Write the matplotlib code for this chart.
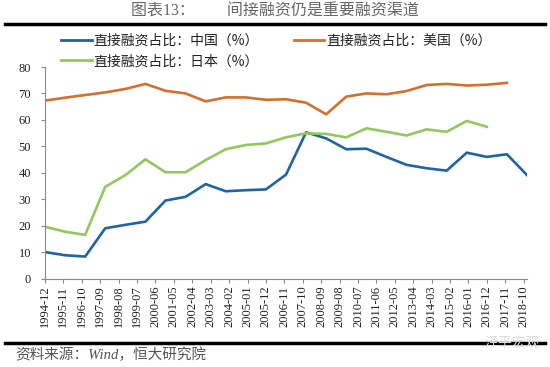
import matplotlib
matplotlib.use("Agg")
import matplotlib.pyplot as plt
import numpy as np

# 西文用衬线体，中文回落到 Noto Sans CJK
plt.rcParams['font.family'] = ['Liberation Serif', 'Noto Sans CJK SC', 'DejaVu Sans']

# 年末数据点 (1994-12 ... 2018-12)，单位 %
years = list(range(1994, 2019))
china = [10.0, 8.8, 8.3, 19.0, 20.3, 21.5, 29.5, 30.9, 35.7, 33.0, 33.4, 33.7,
         39.3, 55.3, 53.0, 48.9, 49.1, 46.0, 43.0, 41.7, 40.8, 47.6, 46.0, 47.0, 39.1]
usa = [67.3, 68.4, 69.4, 70.4, 71.7, 73.6, 71.0, 70.0, 67.0, 68.5, 68.5, 67.6,
       67.8, 66.5, 62.1, 68.8, 70.0, 69.7, 70.9, 73.2, 73.6, 73.0, 73.3, 74.0]
japan = [19.6, 17.7, 16.5, 34.7, 39.1, 45.1, 40.2, 40.2, 44.8, 48.9, 50.5, 51.1,
         53.4, 54.9, 54.7, 53.4, 56.8, 55.5, 54.1, 56.4, 55.5, 59.6, 57.4]

tick_labels = ['1994-12', '1995-11', '1996-10', '1997-09', '1998-08', '1999-07',
               '2000-06', '2001-05', '2002-04', '2003-03', '2004-02', '2005-01',
               '2005-12', '2006-11', '2007-10', '2008-09', '2009-08', '2010-07',
               '2011-06', '2012-05', '2013-04', '2014-03', '2015-02', '2016-01',
               '2016-12', '2017-11', '2018-10']

# 以 1994-12 起算的月数
def months(n):
    return np.arange(n) * 12

tick_pos = np.arange(len(tick_labels)) * 11

c_blue = '#1F64A4'
c_orange = '#D4702C'
c_green = '#93C85C'

fig = plt.figure(figsize=(5.5, 3.67), dpi=100)
ax = fig.add_axes([45/550, 1-278.5/367, (527-45)/550, (278.5-67)/367])

l1, = ax.plot(months(len(china)), china, color=c_blue, lw=1.9, solid_joinstyle='round')
l2, = ax.plot(months(len(usa)), usa, color=c_orange, lw=1.9, solid_joinstyle='round')
l3, = ax.plot(months(len(japan)), japan, color=c_green, lw=1.9, solid_joinstyle='round')

ax.set_xlim(0, 288)
ax.set_ylim(0, 80)
ax.set_yticks(range(0, 81, 10))
ax.set_xticks(tick_pos)
ax.set_xticklabels(tick_labels, rotation=90)
ax.tick_params(axis='both', labelsize=9, labelcolor='#222222')
for s in ['top', 'right']:
    ax.spines[s].set_visible(False)
for s in ['left', 'bottom']:
    ax.spines[s].set_color('#888888')
    ax.spines[s].set_linewidth(0.8)
ax.tick_params(axis='both', direction='out', length=3, width=0.8, color='#888888')
ax.tick_params(axis='x', pad=2)
ax.tick_params(axis='y', pad=7)

leg = fig.legend([l1, l3, l2],
                 ['直接融资占比：中国（%）', '直接融资占比：日本（%）', '直接融资占比：美国（%）'],
                 ncol=2, loc='upper left', bbox_to_anchor=(61/550, 1-34/367), frameon=False,
                 prop={'family': ['Noto Sans CJK SC', 'DejaVu Sans'], 'size': 10, 'weight': 'medium'},
                 handlelength=2.2, handletextpad=0.15, columnspacing=2.5,
                 labelspacing=0.45, borderaxespad=0, borderpad=0)
for line in leg.get_lines():
    line.set_linewidth(2.0)
for t in leg.get_texts():
    t.set_color('#222222')

fig.text(0.5, 1-12/367, '图表13：        间接融资仍是重要融资渠道', ha='center', va='center',
         fontsize=11.5, color='#666666')
fig.add_artist(plt.Line2D([5/550, 545/550], [1-23.5/367, 1-23.5/367], color='black', lw=2.5))
fig.add_artist(plt.Line2D([5/550, 545/550], [1-343/367, 1-343/367], color='black', lw=2.5))
fig.text(15/550, 1-355/367, '资料来源：Wind，恒大研究院', ha='left', va='center',
         fontsize=10.5, color='#555555', style='italic')
fig.text(540/550, 1-343/367, '泽平宏观', ha='right', va='center', fontsize=10,
         color='#dddddd', family=['Noto Sans CJK SC'])

fig.savefig('out.png', dpi=100, facecolor='white')
